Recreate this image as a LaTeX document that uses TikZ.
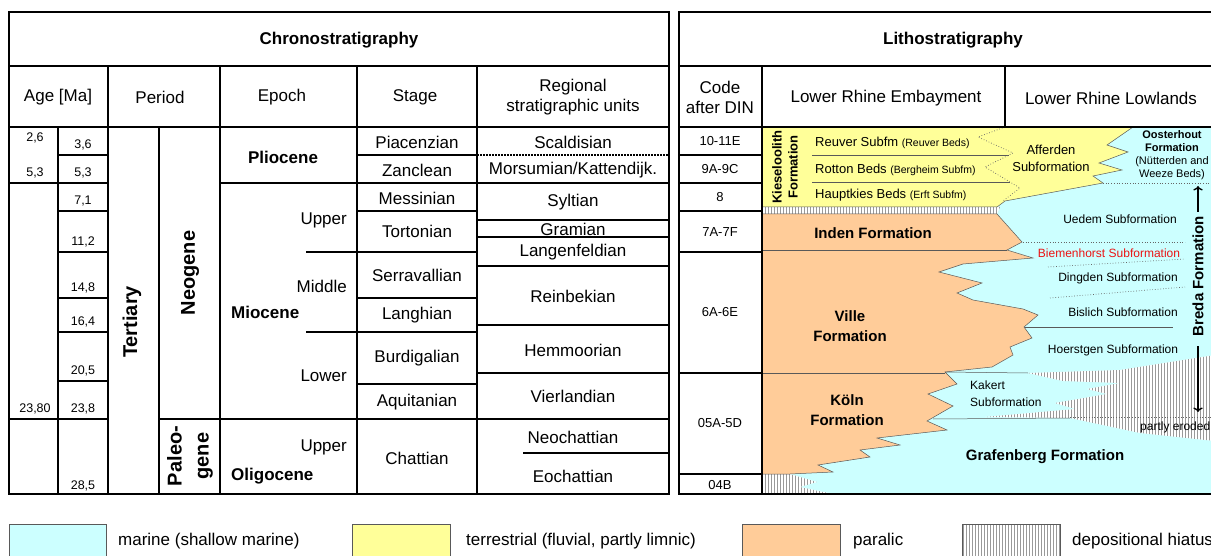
\documentclass[tikz,border=0pt]{standalone}
\usepackage{fontspec}
\setmainfont{Liberation Sans}
\usetikzlibrary{patterns,arrows.meta}

\definecolor{marine}{RGB}{204,255,255}
\definecolor{terrestrial}{RGB}{255,255,153}
\definecolor{paralic}{RGB}{255,204,153}
\definecolor{subred}{RGB}{235,20,20}
\newcommand{\fsz}[2]{\fontsize{#1}{#2}\selectfont}

\begin{document}
\begin{tikzpicture}
	[x=1pt,y=-1pt,
	every node/.style={inner sep=0pt,align=center},
	rule/.style={line width=1.8pt},
	edge/.style={draw=black!65,line width=0.5pt},
	dots/.style={draw=black!60,line width=0.7pt,dotted},
	hiatus/.style={preaction={fill=white},pattern=vertical lines,pattern color=black!40},
	head/.style={font=\fsz{17}{20}\bfseries},
	cell/.style={font=\fsz{17}{20}},
	num/.style={font=\fsz{12.5}{14}},
	code/.style={font=\fsz{13}{16}},
	sub/.style={font=\fsz{12}{17}},
	fm/.style={font=\fsz{15}{20}\bfseries},
	big/.style={font=\fsz{20}{24}\bfseries,rotate=90}]
	\useasboundingbox (0,0) rectangle (1211,556);
	\clip (0,0) rectangle (1211,556);
	\fill[white] (0,0) rectangle (1211,556);
	
	% lithostratigraphy body
	\fill[marine] (762,127) rectangle (1215,494);
	\path[hiatus] (762,207) -- (1000,207) -- (997,214) -- (762,214) -- cycle;
	\path[hiatus] (762,474) -- (790,474) -- (817,482) -- (800,487) -- (833,494) -- (762,494) -- cycle;
	\path[hiatus] (1028,373) -- (1120,370) -- (1215,355) -- (1215,441) -- (1140,433) -- (1070,418)
		-- (985,417) -- (1075,409) -- (1055,403) -- (1107,394) -- (1087,389) -- (1120,383) -- (1063,381) -- cycle;
	\path[fill=terrestrial,edge] (762,127) -- (1133,127) -- (1107,145) -- (1128,152) -- (1099,163)
		-- (1122,170) -- (1093,176) -- (1103,183) -- (1005,201) -- (997,207) -- (762,207) -- cycle;
	\path[fill=paralic,edge] (762,214) -- (997,214) -- (1022,242) -- (1007,250) -- (1033,258)
		-- (963,264) -- (939,272) -- (982,283) -- (957,293) -- (973,300) -- (1023,309) -- (1038,315)
		-- (1024,327) -- (1032,338) -- (1010,347) -- (1013,355) -- (992,367) -- (945,372) -- (957,384)
		-- (928,394) -- (953,406) -- (927,421) -- (947,430) -- (877,438) -- (900,445) -- (860,450)
		-- (870,457) -- (818,465) -- (833,472) -- (790,474) -- (762,474) -- cycle;
	\draw[edge] (812,155) -- (1009,155) (812,182) -- (1010,182);
	\draw[dots] (1005,127) -- (978,137) -- (1013,153) -- (985,167) -- (1020,188) -- (1003,201);
	\draw[edge] (762,250) -- (1007,250) (762,373) -- (945,373);
	\draw[edge] (945,372) -- (1028,373) (933,419) -- (1070,418);
	\draw[edge] (1025,327) -- (1173,327);
	\draw[dots] (1103,183) -- (1215,183);
	\draw[dots] (1023,242) -- (1185,242);
	\draw[dots] (1048,267) -- (1185,259);
	\draw[dots] (1050,298) -- (1185,287);
	\draw[dots] (1070,417) -- (1215,417);
	
	\node[font=\fsz{13}{16}\bfseries,rotate=90] (kiesel) at (785,167) {Kieseloolith\\Formation};
	\node[code,anchor=west] (reuver) at (815,143) {Reuver Subfm {\fsz{10.5}{12}(Reuver Beds)}};
	\node[code,anchor=west] (rotton) at (815,170) {Rotton Beds {\fsz{10.5}{12}(Bergheim Subfm)}};
	\node[code,anchor=west] (hauptkies) at (815,195) {Hauptkies Beds {\fsz{10.5}{12}(Erft Subfm)}};
	\node[font=\fsz{13}{17}] (afferden) at (1051,158) {Afferden\\Subformation};
	\node[font=\fsz{11}{13}] (oosterhout) at (1172,155) {{\bfseries Oosterhout}\\{\bfseries Formation}\\(Nütterden and\\Weeze Beds)};
	\node[sub] (uedem) at (1120,219) {Uedem Subformation};
	\node[sub,text=subred] (biemenhorst) at (1109,253) {Biemenhorst Subformation};
	\node[sub] (dingden) at (1118,278) {Dingden Subformation};
	\node[sub] (bislich) at (1123,312) {Bislich Subformation};
	\node[sub] (hoerstgen) at (1113,350) {Hoerstgen Subformation};
	\node[sub,align=left,anchor=west] (kakert) at (970,394) {Kakert\\Subformation};
	\node[sub,anchor=west] (eroded) at (1140,427) {partly eroded};
	\node[fm] (inden) at (873,233) {Inden Formation};
	\node[fm] (ville) at (850,326) {Ville\\Formation};
	\node[fm] (koeln) at (847,410) {Köln\\Formation};
	\node[fm] (grafenberg) at (1045,457) {Grafenberg Formation};
	\node[fm,rotate=90] (breda) at (1198,276) {Breda Formation};
	\coordinate (bredaUp) at (1198,186);
	\coordinate (bredaDown) at (1198,412);
	\draw[->,line width=1.3pt,shorten <=4pt] (breda.east) -- (bredaUp);
	\draw[->,line width=1.3pt,shorten <=10pt] (breda.west) -- (bredaDown);
	
	% chronostratigraphy grid
	\draw[rule] (9,12) rectangle (669,494);
	\draw[rule] (9,66) -- (669,66) (9,127) -- (669,127);
	\foreach \x in {108,220,357,477}
		\draw[rule] (\x,66) -- (\x,494);
	\draw[rule] (58,127) -- (58,494) (159,127) -- (159,494);
	\foreach \y in {155,211,252,298,332,381}
		\draw[rule] (58,\y) -- (108,\y);
	\foreach \y in {155,211,252,298,332,384}
		\draw[rule] (357,\y) -- (477,\y);
	\foreach \y in {220,237,266,325,373}
		\draw[rule] (477,\y) -- (669,\y);
	\draw[rule] (523,453) -- (669,453);
	\draw[line width=1.3pt,dash pattern=on 1.5pt off 1.5pt] (477,155) -- (669,155);
	\draw[rule] (9,183) -- (108,183) (220,183) -- (669,183);
	\draw[rule] (9,419) -- (108,419) (159,419) -- (669,419);
	\draw[rule] (306,252) -- (357,252) (306,332) -- (357,332);
	
	% lithostratigraphy grid
	\draw[rule] (679,12) rectangle (1215,494);
	\draw[rule] (679,66) -- (1215,66) (679,127) -- (1215,127);
	\draw[rule] (762,66) -- (762,494) (1005,66) -- (1005,127);
	\foreach \y in {155,183,211,252,373,474}
		\draw[rule] (679,\y) -- (762,\y);
	
	% headers
	\node[head] (chrono) at (339,40) {Chronostratigraphy};
	\node[head] (litho) at (953,40) {Lithostratigraphy};
	\node[cell] (hAge) at (58,97) {Age [Ma]};
	\node[cell] (hPeriod) at (160,97) {Period};
	\node[cell] (hEpoch) at (282,97) {Epoch};
	\node[cell] (hStage) at (415,97) {Stage};
	\node[cell] (hRegional) at (573,97) {Regional\\stratigraphic units};
	\node[cell] (hCode) at (720,97) {Code\\after DIN};
	\node[cell] (hEmbayment) at (886,98) {Lower Rhine Embayment};
	\node[cell] (hLowlands) at (1111,98) {Lower Rhine Lowlands};
	
	% ages
	\node[num] (ageA) at (35,138) {2,6};
	\node[num] (ageB) at (35,173) {5,3};
	\node[num] (ageC) at (35,409) {23,80};
	\foreach \y/\t [count=\i] in {145/{3,6},173/{5,3},201/{7,1},242/{11,2},288/{14,8},322/{16,4},371/{20,5},409/{23,8},486/{28,5}}
		\node[num] (age\i) at (83,\y) {\t};
	
	% periods and epochs
	\node[big] (tertiary) at (132,322) {Tertiary};
	\node[big] (neogene) at (190,273) {Neogene};
	\node[big,font=\fsz{20}{27}\bfseries] (paleogene) at (190,456) {Paleo-\\gene};
	\node[cell,font=\fsz{17}{20}\bfseries] (pliocene) at (283,157) {Pliocene};
	\node[cell,font=\fsz{17}{20}\bfseries,anchor=west] (miocene) at (231,312) {Miocene};
	\node[cell,font=\fsz{17}{20}\bfseries,anchor=west] (oligocene) at (231,476) {Oligocene};
	\foreach \y/\t [count=\i] in {220/Upper,286/Middle,376/Lower,447/Upper}
		\node[cell,anchor=east] (sub\i) at (347,\y) {\t};
	
	% stages
	\foreach \y/\t [count=\i] in {142/Piacenzian,170/Zanclean,198/Messinian,231/Tortonian,275/Serravallian,315/Langhian,358/Burdigalian,402/Aquitanian,458/Chattian}
		\node[cell] (stage\i) at (417,\y) {\t};
	\foreach \y/\t [count=\i] in {142/Scaldisian,170/{Morsumian/Kattendijk.},202/Syltian,229/Gramian,252/Langenfeldian,296/Reinbekian,350/Hemmoorian,396/Vierlandian,437/Neochattian,476/Eochattian}
		\node[cell] (regional\i) at (573,\y) {\t};
	
	% codes
	\foreach \y/\t [count=\i] in {141/10-11E,169/9A-9C,197/8,232/7A-7F,312/6A-6E,423/05A-5D,485/04B}
		\node[code] (code\i) at (720,\y) {\t};
	
	% legend
	\path[fill=marine,edge] (9,524) rectangle (106,560);
	\path[fill=terrestrial,edge] (352,524) rectangle (450,560);
	\path[fill=paralic,edge] (742,524) rectangle (840,560);
	\path[hiatus,edge] (962,524) rectangle (1060,560);
	\node[cell,anchor=west] (lgMarine) at (118,541) {marine (shallow marine)};
	\node[cell,anchor=west] (lgTerr) at (466,541) {terrestrial (fluvial, partly limnic)};
	\node[cell,anchor=west] (lgParalic) at (853,541) {paralic};
	\node[cell,anchor=west] (lgHiatus) at (1072,541) {depositional hiatus};
\end{tikzpicture}
\end{document}
